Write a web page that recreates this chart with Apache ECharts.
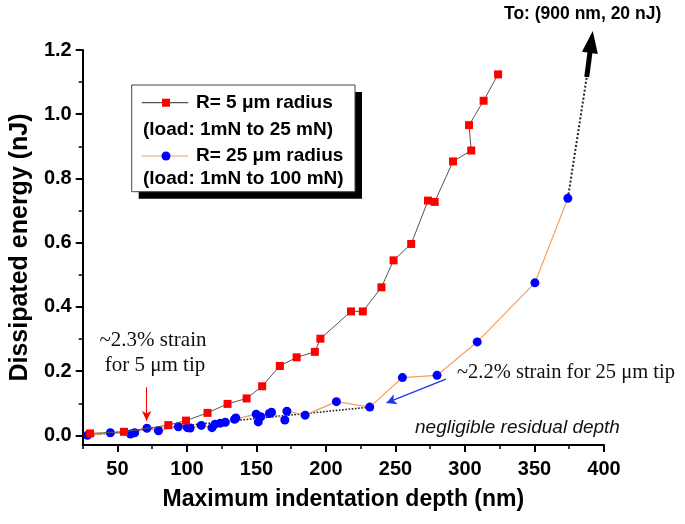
<!DOCTYPE html>
<html>
<head>
<meta charset="utf-8">
<title>Dissipated energy vs indentation depth</title>
<script src="https://cdn.jsdelivr.net/npm/echarts@6.0.0/dist/echarts.min.js"></script>
</head>
<body style="margin:0;background:#fff">
<div id="main" style="width:685px;height:524px;"></div>
<script type="text/javascript">

// R = 5 um tip (red squares)
var depth5 = [30.3, 54.7, 86.6, 99.3, 114.8, 129.2, 142.9, 154.1, 166.8, 178.9, 192, 196, 218, 226.5, 239.9, 248.6, 261.3, 273.4, 278.2, 291.4, 304.5, 302.9, 313.4, 323.8];
var energy5 = [0.006, 0.011, 0.032, 0.046, 0.070, 0.098, 0.115, 0.153, 0.216, 0.243, 0.260, 0.301, 0.386, 0.386, 0.461, 0.545, 0.596, 0.731, 0.727, 0.853, 0.887, 0.966, 1.042, 1.124];

// R = 25 um tip (blue circles)
var depth25 = [28.4, 44.9, 59.4, 62.4, 71.2, 79.5, 93.8, 100.3, 102.3, 110.3, 118, 120.2, 124, 127.6, 134.2, 135.2, 149.8, 151.3, 153.1, 159.3, 160.8, 170.4, 171.9, 185, 207.5, 231.5, 255, 279.9, 308.8, 350.3, 374];
var energy25 = [0.0, 0.008, 0.004, 0.008, 0.022, 0.014, 0.027, 0.024, 0.023, 0.031, 0.024, 0.035, 0.038, 0.041, 0.050, 0.054, 0.066, 0.042, 0.058, 0.068, 0.072, 0.048, 0.075, 0.063, 0.105, 0.088, 0.180, 0.187, 0.291, 0.475, 0.738];

// dotted guide lines
var fitDepth = [28.4, 231.5];
var fitEnergy = [0.0, 0.088];
var runDepth = [374, 387.6];
var runEnergy = [0.738, 1.116];
var arrowTip = [391.9, 1.259];

// annotation arrows (data coords)
var redArrow = [[71, 0.150], [71, 0.045]];
var blueArrow = [[286.3, 0.175], [243.5, 0.101]];

var xTicks = [50, 100, 150, 200, 250, 300, 350, 400];
var yTicks = [0, 0.2, 0.4, 0.6, 0.8, 1.0, 1.2];
var yMinor = [0, 0.1, 0.2, 0.3, 0.4, 0.5, 0.6, 0.7, 0.8, 0.9, 1.0, 1.1, 1.2];

function zip(a, b) {
    return a.map(function (v, i) { return [v, b[i]]; });
}

var sans = '"Liberation Sans", Arial, sans-serif';
var serif = '"Liberation Serif", "Times New Roman", serif';

var myChart = echarts.init(document.getElementById('main'));

var option = {
    animation: false,
    backgroundColor: '#fff',
    grid: { left: 82, right: 81, top: 50, bottom: 79 },
    xAxis: [{
        type: 'value', min: 25, max: 400,
        name: 'Maximum indentation depth (nm)',
        nameLocation: 'middle', nameGap: 43,
        nameTextStyle: { color: '#000', fontWeight: 'bold', fontSize: 23, fontFamily: sans },
        axisLine: { onZero: false, lineStyle: { color: '#000', width: 2 } },
        axisTick: { customValues: xTicks, length: 7, lineStyle: { color: '#000', width: 2 } },
        axisLabel: {
            customValues: xTicks, color: '#000', fontWeight: 'bold', fontSize: 20,
            fontFamily: sans, margin: 14
        },
        splitLine: { show: false }
    }, {
        type: 'value', min: 25, max: 400, interval: 25, position: 'bottom',
        axisLine: { show: false, onZero: false },
        axisTick: { length: 4, lineStyle: { color: '#000', width: 1.5 } },
        axisLabel: { show: false },
        splitLine: { show: false }
    }],
    yAxis: [{
        type: 'value', min: -0.03, max: 1.2, position: 'left',
        name: 'Dissipated energy (nJ)',
        nameLocation: 'middle', nameGap: 48,
        nameTextStyle: { color: '#000', fontWeight: 'bold', fontSize: 25, fontFamily: sans },
        axisLine: { onZero: false, lineStyle: { color: '#000', width: 2 } },
        axisTick: { customValues: yTicks, length: 7, lineStyle: { color: '#000', width: 2 } },
        axisLabel: {
            customValues: yTicks, color: '#000', fontWeight: 'bold', fontSize: 20,
            fontFamily: sans, margin: 11,
            formatter: function (v) { return v.toFixed(1); }
        },
        splitLine: { show: false }
    }, {
        type: 'value', min: -0.03, max: 1.2, position: 'left',
        axisLine: { show: false, onZero: false },
        axisTick: { customValues: yMinor, length: 4, lineStyle: { color: '#000', width: 1.5 } },
        axisLabel: { show: false },
        splitLine: { show: false }
    }],
    series: [{
        type: 'line', data: zip(fitDepth, fitEnergy), symbol: 'none', z: 1,
        lineStyle: { color: '#222', width: 1.6, type: 'dotted' }
    }, {
        type: 'line', data: zip(runDepth, runEnergy), symbol: 'none', z: 1,
        lineStyle: { color: '#222', width: 2, type: 'dotted' }
    }, {
        name: 'R= 25 \u03bcm radius', type: 'line', data: zip(depth25, energy25),
        symbol: 'circle', symbolSize: 9, z: 3,
        itemStyle: { color: '#0000ff' },
        lineStyle: { color: '#f4a060', width: 1.2 },
        markLine: {
            silent: true, animation: false, symbol: ['none', 'arrow'], symbolSize: [8, 10],
            label: { show: false },
            lineStyle: { color: '#2233ee', width: 1.2, type: 'solid' },
            data: [[{ coord: blueArrow[0] }, { coord: blueArrow[1] }]]
        }
    }, {
        name: 'R= 5 \u03bcm radius', type: 'line', data: zip(depth5, energy5),
        symbol: 'rect', symbolSize: 8, z: 4,
        itemStyle: { color: '#ff0000' },
        lineStyle: { color: '#555', width: 1 },
        markLine: {
            silent: true, animation: false, symbol: ['none', 'arrow'], symbolSize: [7, 10],
            label: { show: false },
            lineStyle: { color: '#ff0000', width: 1, type: 'solid' },
            data: [[{ coord: redArrow[0] }, { coord: redArrow[1] }]]
        }
    }]
};

myChart.setOption(option);

// big arrow toward (900 nm, 20 nJ)
var p0 = myChart.convertToPixel({ gridIndex: 0 }, [runDepth[1], runEnergy[1]]);
var p1 = myChart.convertToPixel({ gridIndex: 0 }, arrowTip);
var dx = p1[0] - p0[0], dy = p1[1] - p0[1];
var len = Math.sqrt(dx * dx + dy * dy);
var ux = dx / len, uy = dy / len;
var headLen = 22, headW = 8;
var bx = p1[0] - ux * headLen, by = p1[1] - uy * headLen;

// legend, texts, arrow
var legendItems = [
    { y: 102.7, line: '#555', fill: '#ff0000', shape: 'rect', text: 'R= 5 \u03bcm radius' },
    { y: 156, line: '#f4a060', fill: '#0000ff', shape: 'circle', text: 'R= 25 \u03bcm radius' }
];
var graphics = [
    { type: 'rect', shape: { x: 138.7, y: 92, width: 223.3, height: 106.7 }, style: { fill: '#000' }, z: 100 },
    { type: 'rect', shape: { x: 131.7, y: 85, width: 223.3, height: 106.7 }, style: { fill: '#fff', stroke: '#444', lineWidth: 1 }, z: 101 },
    { type: 'text', x: 143, y: 130, z: 102, style: { text: '(load: 1mN to 25 mN)', font: 'bold 19px ' + sans, fill: '#000', textVerticalAlign: 'middle' } },
    { type: 'text', x: 143, y: 178.3, z: 102, style: { text: '(load: 1mN to 100 mN)', font: 'bold 19px ' + sans, fill: '#000', textVerticalAlign: 'middle' } },
    { type: 'text', x: 153, y: 340, z: 102, style: { text: '~2.3% strain', font: '21px ' + serif, fill: '#111', textAlign: 'center', textVerticalAlign: 'middle' } },
    { type: 'text', x: 155, y: 365, z: 102, style: { text: 'for 5 \u03bcm tip', font: '21px ' + serif, fill: '#111', textAlign: 'center', textVerticalAlign: 'middle' } },
    { type: 'text', x: 457, y: 373, z: 102, style: { text: '~2.2% strain for 25 \u03bcm tip', font: '20.5px ' + serif, fill: '#111', textVerticalAlign: 'middle' } },
    { type: 'text', x: 415, y: 428, z: 102, style: { text: 'negligible residual depth', font: 'italic 19px ' + sans, fill: '#111', textVerticalAlign: 'middle' } },
    { type: 'text', x: 504, y: 14, z: 102, style: { text: 'To: (900 nm, 20 nJ)', font: 'bold 17.5px ' + sans, fill: '#000', textVerticalAlign: 'middle' } },
    { type: 'line', z: 102, shape: { x1: p0[0], y1: p0[1], x2: bx + ux * 2, y2: by + uy * 2 }, style: { stroke: '#000', lineWidth: 5 } },
    {
        type: 'polygon', z: 102,
        shape: { points: [[p1[0], p1[1]], [bx - uy * headW, by + ux * headW], [bx + uy * headW, by - ux * headW]] },
        style: { fill: '#000' }
    }
];
legendItems.forEach(function (it) {
    graphics.push({ type: 'line', z: 102, shape: { x1: 141.7, y1: it.y, x2: 188.3, y2: it.y }, style: { stroke: it.line, lineWidth: 1.2 } });
    if (it.shape === 'rect') {
        graphics.push({ type: 'rect', z: 103, shape: { x: 162, y: it.y - 4, width: 8, height: 8 }, style: { fill: it.fill } });
    } else {
        graphics.push({ type: 'circle', z: 103, shape: { cx: 166, cy: it.y, r: 4.5 }, style: { fill: it.fill } });
    }
    graphics.push({ type: 'text', x: 196, y: it.y, z: 102, style: { text: it.text, font: 'bold 19px ' + sans, fill: '#000', textVerticalAlign: 'middle' } });
});

myChart.setOption({ graphic: { elements: graphics } });
</script>
</body>
</html>
